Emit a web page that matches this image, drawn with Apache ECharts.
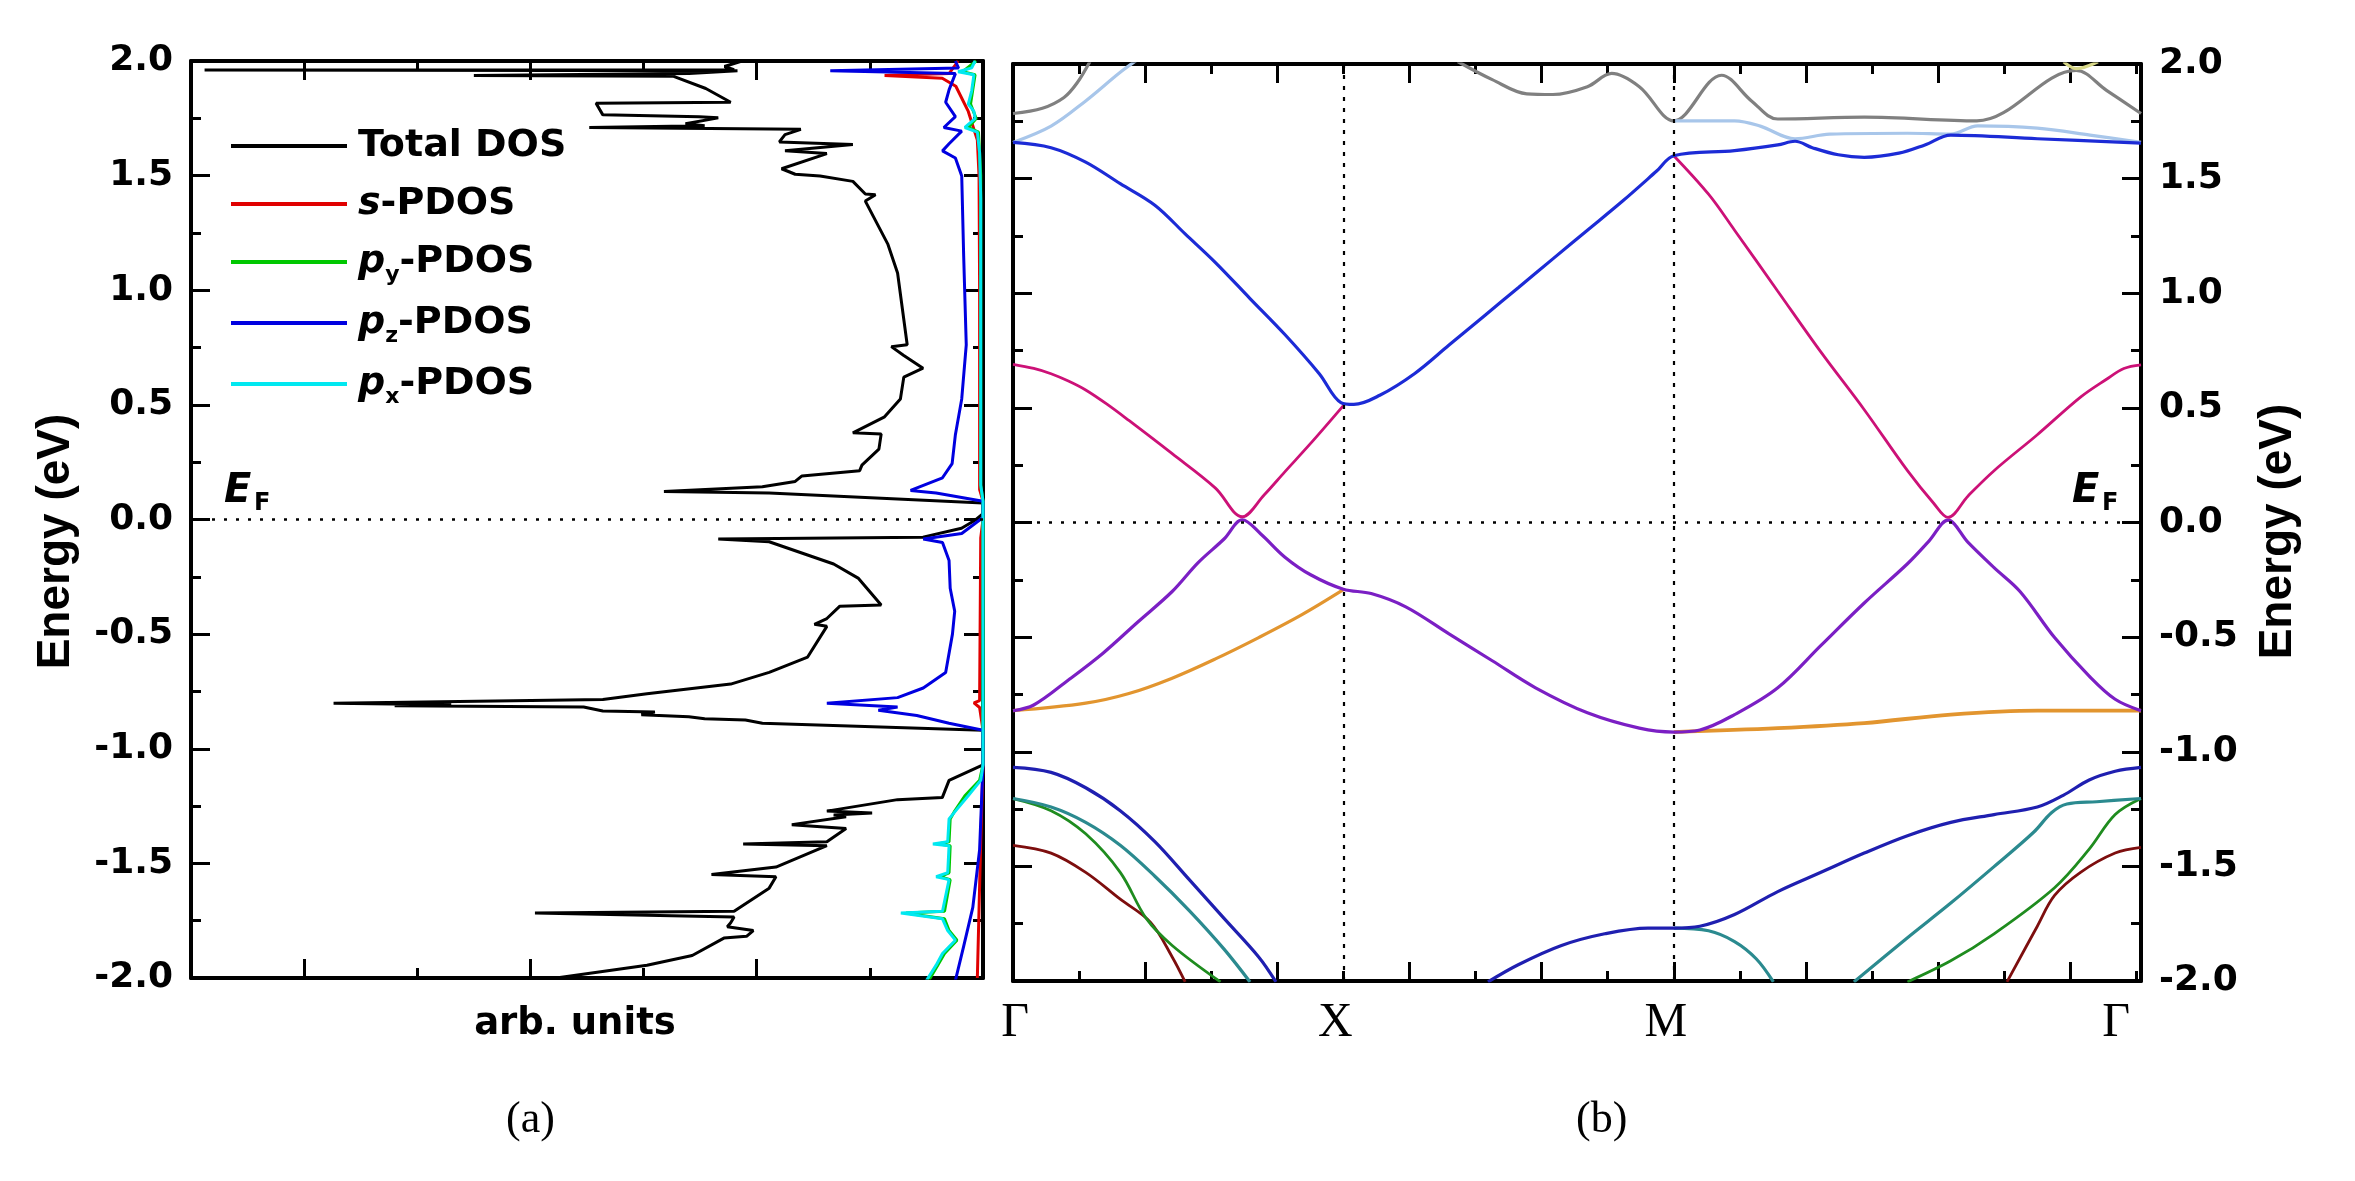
<!DOCTYPE html>
<html><head><meta charset="utf-8">
<script src="https://cdn.jsdelivr.net/npm/echarts@6/dist/echarts.min.js"></script>
<style>html,body{margin:0;padding:0;background:#fff}#c{width:2355px;height:1181px}</style>
</head><body><div id="c"></div>
<script>
// ---------------- DATA ----------------
// Energy axis (eV)
const energyMin = -2, energyMax = 2;
// DOS arrays: [energy (eV), DOS (arb. units)]
const totalDOS = [
  [2.0,2.13],[1.976,2.285],[1.962,2.2],[1.961,6.88],[1.958,2.17],[1.945,2.6],[1.937,4.5],[1.934,2.74],
  [1.88,2.45],[1.82,2.23],[1.816,3.42],[1.765,3.36],[1.757,2.51],[1.752,2.34],[1.726,2.63],[1.718,2.46],
  [1.71,3.48],[1.702,1.61],[1.679,1.75],[1.647,1.8],[1.636,1.15],[1.608,1.75],[1.596,1.38],[1.53,1.78],
  [1.506,1.66],[1.498,1.44],[1.475,1.15],[1.42,1.04],[1.417,0.95],[1.389,1.04],[1.2,0.84],[1.075,0.755],
  [0.762,0.67],[0.754,0.81],[0.715,0.7],[0.66,0.53],[0.621,0.7],[0.526,0.73],[0.448,0.87],[0.378,1.15],
  [0.373,0.9],[0.307,0.92],[0.237,1.07],[0.213,1.09],[0.19,1.6],[0.166,1.66],[0.143,1.95],[0.122,2.82],
  [0.116,1.89],[0.072,0.0],[0.025,0.0],[-0.003,0.07],[-0.038,0.19],[-0.077,0.53],[-0.085,2.34],
  [-0.097,1.89],[-0.194,1.32],[-0.257,1.1],[-0.264,1.095],[-0.373,0.9],[-0.378,1.265],[-0.432,1.38],
  [-0.457,1.49],[-0.466,1.38],[-0.6,1.55],[-0.667,1.89],[-0.718,2.23],[-0.76,2.97],[-0.785,3.36],
  [-0.802,5.74],[-0.808,4.7],[-0.812,5.2],[-0.818,3.53],[-0.835,3.36],[-0.84,2.9],[-0.852,3.02],
  [-0.86,2.6],[-0.869,2.46],[-0.875,2.1],[-0.889,1.95],[-0.919,0.0],[-1.07,0.0],[-1.138,0.3],
  [-1.213,0.36],[-1.222,0.755],[-1.272,1.38],[-1.28,0.98],[-1.289,1.32],[-1.297,1.21],[-1.331,1.69],
  [-1.348,1.21],[-1.406,1.38],[-1.415,2.12],[-1.423,1.38],[-1.516,1.83],[-1.549,2.4],[-1.558,1.83],
  [-1.608,1.89],[-1.709,2.2],[-1.717,3.96],[-1.734,2.2],[-1.759,2.23],[-1.776,2.26],[-1.793,2.03],
  [-1.818,2.09],[-1.826,2.29],[-1.902,2.57],[-1.944,2.97],[-2.011,3.93]
];
const sPDOS = [
  [2.0,0.22],[1.945,0.3],[1.937,0.87],[1.925,0.36],[1.89,0.24],[1.78,0.13],[1.655,0.05],[1.5,0.035],
  [1.0,0.03],[0.5,0.03],[0.13,0.03],[0.08,0.0],[0.0,0.0],[-0.08,0.02],[-0.79,0.03],[-0.80,0.08],
  [-0.82,0.03],[-0.919,0.0],[-1.07,0.0],[-1.4,0.02],[-1.7,0.035],[-2.0,0.05]
];
const pyPDOS = [
  [2.0,0.06],[1.953,0.18],[1.94,0.07],[1.812,0.11],[1.749,0.06],[1.71,0.13],[1.69,0.04],[1.5,0.02],
  [0.15,0.02],[0.08,0.0],[-1.07,0.0],[-1.138,0.03],[-1.205,0.16],[-1.272,0.25],[-1.306,0.29],
  [-1.406,0.3],[-1.415,0.4],[-1.423,0.29],[-1.541,0.3],[-1.558,0.38],[-1.571,0.29],[-1.709,0.34],
  [-1.717,0.68],[-1.742,0.34],[-1.793,0.3],[-1.835,0.23],[-1.893,0.34],[-1.944,0.4],[-2.011,0.48]
];
const pzPDOS = [
  [2.0,0.244],[1.969,0.216],[1.957,1.35],[1.945,0.244],[1.874,0.3],[1.82,0.33],[1.757,0.244],
  [1.71,0.346],[1.694,0.188],[1.639,0.3],[1.608,0.358],[1.577,0.244],[1.498,0.188],[1.153,0.171],
  [0.762,0.148],[0.526,0.188],[0.37,0.244],[0.244,0.273],[0.182,0.358],[0.127,0.64],[0.116,0.414],
  [0.08,0.0],[0.009,0.0],[-0.061,0.188],[-0.085,0.528],[-0.1,0.358],[-0.179,0.3],[-0.3,0.29],
  [-0.4,0.25],[-0.5,0.27],[-0.667,0.33],[-0.735,0.528],[-0.777,0.755],[-0.802,1.38],[-0.818,0.755],
  [-0.832,0.925],[-0.855,0.585],[-0.889,0.3],[-0.919,0.0],[-1.07,0.0],[-1.44,0.03],[-1.692,0.09],
  [-1.86,0.17],[-2.011,0.244]
];
const pxPDOS = [
  [2.0,0.07],[1.97,0.1],[1.953,0.22],[1.94,0.08],[1.87,0.1],[1.812,0.13],[1.78,0.08],[1.749,0.07],
  [1.71,0.16],[1.69,0.05],[1.6,0.03],[1.4,0.02],[0.15,0.02],[0.08,0.0],[-1.07,0.0],[-1.138,0.02],
  [-1.205,0.131],[-1.272,0.244],[-1.306,0.3],[-1.406,0.312],[-1.415,0.443],[-1.423,0.3],[-1.541,0.312],
  [-1.558,0.414],[-1.571,0.3],[-1.709,0.358],[-1.717,0.726],[-1.742,0.358],[-1.793,0.312],
  [-1.835,0.244],[-1.893,0.358],[-1.944,0.414],[-2.011,0.5]
];

// Band structure: [k (path coordinate), energy (eV)]
const kPoints = [0, 5, 10, 17.071];
const kLabels = ['Γ', 'X', 'M', 'Γ'];
const bandMagentaGX = [[0.0,0.69],[0.314,0.672],[0.576,0.649],[0.838,0.617],[1.1,0.578],[1.427,0.515],[1.754,0.445],[2.409,0.3],[3.064,0.15],[3.47,0.025],[3.8,0.12],[4.11,0.22],[4.504,0.345],[5.0,0.51]];
const bandMagentaMG = [[10.0,1.6],[10.526,1.432],[10.92,1.275],[11.574,1.009],[12.228,0.743],[12.883,0.492],[13.537,0.226],[13.93,0.085],[14.15,0.022],[14.454,0.116],[14.847,0.226],[15.502,0.383],[16.156,0.547],[16.549,0.625],[16.811,0.672],[17.071,0.688]];
const bandBlue = [[0.0,1.658],[0.576,1.635],[1.1,1.572],[1.623,1.478],[2.147,1.384],[2.605,1.259],[3.064,1.134],[3.587,0.977],[4.111,0.821],[4.635,0.649],[4.962,0.523],[5.158,0.515],[5.551,0.555],[6.075,0.649],[6.599,0.774],[7.122,0.899],[7.646,1.024],[8.17,1.15],[8.693,1.275],[9.217,1.4],[9.741,1.533],[10.0,1.6],[10.92,1.622],[11.574,1.647],[11.835,1.663],[12.097,1.635],[12.49,1.604],[12.883,1.593],[13.407,1.611],[13.8,1.647],[14.192,1.69],[15.502,1.674],[17.071,1.655]];
const bandLightBlueG = [[0.0,1.658],[0.576,1.729],[1.1,1.839],[1.623,1.964],[1.885,2.019]];
const bandLightBlueMG = [[10.0,1.752],[10.92,1.752],[11.31,1.729],[11.835,1.674],[12.359,1.694],[13.537,1.698],[14.19,1.694],[14.6,1.73],[15.5,1.72],[16.3,1.69],[17.071,1.658]];
const bandGrayG = [[0.0,1.784],[0.445,1.807],[0.772,1.854],[0.969,1.917],[1.165,2.011]];
const bandGrayXMG = [[6.73,2.011],[7.253,1.932],[7.777,1.87],[8.17,1.867],[8.693,1.901],[9.06,1.959],[9.479,1.901],[10.0,1.752],[10.723,1.951],[11.181,1.838],[11.574,1.76],[12.883,1.768],[14.585,1.752],[16.09,1.972],[16.549,1.885],[17.071,1.784]];
const bandYellow = [[15.9,2.01],[16.09,1.98],[16.42,2.01]];
const bandPurple = [[0.0,-0.821],[0.314,-0.796],[0.838,-0.687],[1.362,-0.57],[1.885,-0.435],[2.409,-0.301],[2.802,-0.175],[3.194,-0.072],[3.47,0.012],[3.75,-0.05],[4.111,-0.15],[4.504,-0.228],[5.0,-0.291],[5.42,-0.31],[5.944,-0.368],[6.599,-0.486],[7.253,-0.603],[7.908,-0.721],[8.693,-0.83],[9.479,-0.897],[10.0,-0.914],[10.395,-0.905],[10.92,-0.838],[11.574,-0.721],[12.228,-0.536],[12.883,-0.351],[13.537,-0.18],[13.865,-0.08],[14.15,0.01],[14.454,-0.087],[14.847,-0.197],[15.24,-0.301],[15.763,-0.502],[16.287,-0.67],[16.68,-0.771],[17.071,-0.821]];
const bandOrangeGX = [[0.0,-0.821],[1.1,-0.788],[1.754,-0.746],[2.409,-0.679],[3.064,-0.595],[3.718,-0.502],[4.373,-0.402],[5.0,-0.293]];
const bandOrangeMG = [[10.0,-0.914],[11.574,-0.897],[12.883,-0.875],[14.192,-0.838],[15.502,-0.821],[17.071,-0.821]];
const bandDarkBlueG = [[0.0,-1.068],[0.576,-1.09],[1.1,-1.157],[1.623,-1.257],[2.147,-1.392],[2.671,-1.559],[3.194,-1.727],[3.718,-1.895],[3.98,-2.004]];
const bandDarkBlueXMG = [[7.188,-2.004],[7.646,-1.929],[8.301,-1.845],[8.955,-1.794],[9.61,-1.769],[10.0,-1.769],[10.395,-1.761],[10.92,-1.71],[11.574,-1.61],[12.228,-1.526],[12.883,-1.442],[13.537,-1.366],[14.192,-1.308],[14.847,-1.274],[15.502,-1.241],[15.894,-1.19],[16.287,-1.123],[16.68,-1.085],[17.071,-1.068]];
const bandTealG = [[0.0,-1.204],[0.576,-1.241],[1.1,-1.308],[1.623,-1.408],[2.147,-1.543],[2.671,-1.694],[3.194,-1.861],[3.587,-2.004]];
const bandTealM = [[10.0,-1.769],[10.526,-1.781],[10.92,-1.828],[11.247,-1.903],[11.508,-2.004]];
const bandTealMG = [[12.726,-2.004],[13.537,-1.811],[14.192,-1.66],[14.847,-1.501],[15.45,-1.35],[15.72,-1.265],[15.95,-1.228],[16.4,-1.218],[17.071,-1.204]];
const bandGreenG = [[0.0,-1.204],[0.576,-1.257],[1.1,-1.358],[1.623,-1.526],[2.016,-1.727],[2.409,-1.845],[3.14,-2.004]];
const bandGreenMG = [[13.537,-2.004],[14.192,-1.912],[14.847,-1.794],[15.763,-1.593],[16.287,-1.425],[16.68,-1.274],[17.071,-1.204]];
const bandDarkRedG = [[0.0,-1.408],[0.576,-1.442],[1.1,-1.526],[1.623,-1.643],[2.082,-1.744],[2.409,-1.895],[2.605,-2.004]];
const bandDarkRedMG = [[15.043,-2.004],[15.502,-1.761],[15.763,-1.627],[16.156,-1.526],[16.68,-1.442],[17.071,-1.417]];

// ---------------- STYLE ----------------
const SANS = '"DejaVu Sans", "Liberation Sans", Arial, sans-serif';
const ARIAL = '"Liberation Sans", Arial, sans-serif';
const SERIF = '"Liberation Serif", "Times New Roman", serif';
const BLACK = '#000';

const chart = echarts.init(document.getElementById('c'), null, {renderer: 'canvas'});

function xAx(grid, pos, interval, len, showLine, max, extra) {
  return Object.assign({
    gridIndex: grid, type: 'value', position: pos, min: 0, max: max, interval: interval,
    axisLine: {show: showLine, onZero: false, lineStyle: {color: BLACK, width: 4}},
    axisTick: {show: true, inside: true, length: len, lineStyle: {color: BLACK, width: 3}},
    axisLabel: {show: false}, splitLine: {show: false}
  }, extra || {});
}
function yAx(grid, pos, showLabel, extra) {
  return Object.assign({
    gridIndex: grid, type: 'value', position: pos, min: energyMin, max: energyMax, interval: 0.5,
    axisLine: {show: true, onZero: false, lineStyle: {color: BLACK, width: 4}},
    axisTick: {show: true, inside: true, length: 19, lineStyle: {color: BLACK, width: 3}},
    minorTick: {show: true, splitNumber: 2, length: 10, lineStyle: {color: BLACK, width: 3}},
    axisLabel: {show: showLabel, margin: 18, color: BLACK, fontFamily: SANS, fontWeight: 'bold', fontSize: 36,
      formatter: v => v.toFixed(1)},
    splitLine: {show: false}
  }, extra || {});
}

const dosMax = 7;
const kMax = kPoints[kPoints.length - 1];

const xAxes = [
  xAx(0, 'bottom', 2, 19, true, dosMax, {inverse: true, name: 'arb. units', nameLocation: 'middle', nameGap: 28,
     nameTextStyle: {color: BLACK, fontFamily: SANS, fontWeight: 'bold', fontSize: 37, padding: [0, 24, 0, 0]}}),
  xAx(0, 'bottom', 1, 10, false, dosMax, {inverse: true}),
  xAx(0, 'top', 2, 19, true, dosMax, {inverse: true}),
  xAx(0, 'top', 1, 10, false, dosMax, {inverse: true}),
  xAx(1, 'bottom', 2, 19, true, kMax, {
    axisLabel: {show: true, customValues: kPoints, margin: 18, color: BLACK, fontFamily: SERIF, fontSize: 48,
      formatter: v => {
        let i = 0, d = 1e9;
        kPoints.forEach((p, j) => { if (Math.abs(p - v) < d) { d = Math.abs(p - v); i = j; } });
        return i === 0 ? '{a|' + kLabels[i] + '}' : (i === kPoints.length - 1 ? '{c|' + kLabels[i] + '}' : '{b|' + kLabels[i] + '}');
      },
      rich: {
        a: {fontFamily: SERIF, fontSize: 48, color: BLACK, padding: [0, 0, 0, 4]},
        b: {fontFamily: SERIF, fontSize: 48, color: BLACK, padding: [0, 16, 0, 0]},
        c: {fontFamily: SERIF, fontSize: 48, color: BLACK, padding: [0, 50, 0, 0]}
      }}}),
  xAx(1, 'bottom', 1, 10, false, kMax),
  xAx(1, 'top', 2, 19, true, kMax),
  xAx(1, 'top', 1, 10, false, kMax)
];
const yAxes = [
  yAx(0, 'left', true, {name: 'Energy (eV)', nameLocation: 'middle', nameRotate: 90, nameGap: 112,
     nameTextStyle: {color: BLACK, fontFamily: ARIAL, fontWeight: 'bold', fontSize: 46, padding: [0, 44, 0, 0]}}),
  yAx(0, 'right', false),
  yAx(1, 'right', true, {name: 'Energy (eV)', nameLocation: 'middle', nameRotate: 90, nameGap: 114,
     nameTextStyle: {color: BLACK, fontFamily: ARIAL, fontWeight: 'bold', fontSize: 46, padding: [0, 18, 0, 0]}}),
  yAx(1, 'left', false)
];

function dosSeries(name, arr, color, extra) {
  return Object.assign({
    name: name, type: 'line', xAxisIndex: 0, yAxisIndex: 0, showSymbol: false, symbol: 'none',
    data: arr.map(p => [p[1], p[0]]), lineStyle: {color: color, width: 3}, itemStyle: {color: color},
    animation: false, silent: true
  }, extra || {});
}
function bandSeries(arr, color, width, extra) {
  return Object.assign({
    type: 'line', xAxisIndex: 4, yAxisIndex: 2, showSymbol: false, symbol: 'none', smooth: 0.35,
    data: arr, lineStyle: {color: color, width: width || 3.2}, animation: false, silent: true
  }, extra || {});
}

const dotted = {color: BLACK, width: 2.5, type: [3, 9]};
const dashedV = {color: BLACK, width: 2.2, type: [4, 7]};

const series = [
  dosSeries('Total DOS', totalDOS, '#000000', {markLine: {silent: true, symbol: 'none', label: {show: false},
    lineStyle: dotted, data: [{yAxis: 0}], animation: false}}),
  dosSeries('s-PDOS', sPDOS, '#e00000'),
  dosSeries('py-PDOS', pyPDOS, '#00c800'),
  dosSeries('pz-PDOS', pzPDOS, '#0000e0'),
  dosSeries('px-PDOS', pxPDOS, '#00e8f0'),
  bandSeries(bandGrayG, '#808080'),
  bandSeries(bandGrayXMG, '#808080'),
  bandSeries(bandYellow, '#d8d888'),
  bandSeries(bandLightBlueG, '#a8c6ea'),
  bandSeries(bandLightBlueMG, '#a8c6ea'),
  bandSeries(bandDarkRedG, '#7d0e0e', 2.8),
  bandSeries(bandDarkRedMG, '#7d0e0e', 2.8),
  bandSeries(bandGreenG, '#1f8c1f', 2.8),
  bandSeries(bandGreenMG, '#1f8c1f', 2.8),
  bandSeries(bandTealG, '#2b8a8f'),
  bandSeries(bandTealM, '#2b8a8f'),
  bandSeries(bandTealMG, '#2b8a8f'),
  bandSeries(bandDarkBlueG, '#1f1fb0'),
  bandSeries(bandDarkBlueXMG, '#1f1fb0'),
  bandSeries(bandOrangeGX, '#e2952f'),
  bandSeries(bandOrangeMG, '#e2952f', 3.8),
  bandSeries(bandPurple, '#7b1fc4', 3.2, {markLine: {silent: true, symbol: 'none', label: {show: false},
    animation: false, data: [
      {yAxis: 0, lineStyle: dotted},
      {xAxis: kPoints[1], lineStyle: dashedV},
      {xAxis: kPoints[2], lineStyle: dashedV}
    ]}}),
  bandSeries(bandMagentaGX, '#cc1177', 2.8),
  bandSeries(bandMagentaMG, '#cc1177', 2.8),
  bandSeries(bandBlue, '#1c2bd6', 3.2)
];

const legendNames = {'Total DOS': 'Total DOS', 's-PDOS': '{i|s}-PDOS', 'py-PDOS': '{i|p}{sub|y}-PDOS',
  'pz-PDOS': '{i|p}{sub|z}-PDOS', 'px-PDOS': '{i|p}{sub|x}-PDOS'};

const option = {
  backgroundColor: '#fff',
  animation: false,
  grid: [
    {left: 191, top: 61, width: 792, height: 917},
    {left: 1013, top: 64, width: 1128, height: 917}
  ],
  xAxis: xAxes,
  yAxis: yAxes,
  legend: {
    data: ['Total DOS', 's-PDOS', 'py-PDOS', 'pz-PDOS', 'px-PDOS'],
    orient: 'vertical', left: 226, top: 120, itemWidth: 116, itemHeight: 4, itemGap: 16, icon: 'rect',
    selectedMode: false,
    formatter: n => legendNames[n],
    textStyle: {color: BLACK, fontFamily: SANS, fontWeight: 'bold', fontSize: 38, lineHeight: 42, padding: [0, 0, 0, 6],
      rich: {
        i: {fontFamily: SANS, fontWeight: 'bold', fontStyle: 'italic', fontSize: 38, color: BLACK},
        sub: {fontFamily: SANS, fontWeight: 'bold', fontSize: 22, color: BLACK, padding: [26, 0, 0, 0]}
      }}
  },
  graphic: [
    {type: 'text', left: 224, top: 472, style: {text: 'E', font: 'italic bold 40px ' + SANS, fill: BLACK}},
    {type: 'text', left: 254, top: 492, style: {text: 'F', font: 'bold 24px ' + SANS, fill: BLACK}},
    {type: 'text', left: 2072, top: 472, style: {text: 'E', font: 'italic bold 40px ' + SANS, fill: BLACK}},
    {type: 'text', left: 2102, top: 492, style: {text: 'F', font: 'bold 24px ' + SANS, fill: BLACK}},
    {type: 'text', left: 506, top: 1098, style: {text: '(a)', font: '44px ' + SERIF, fill: BLACK}},
    {type: 'text', left: 1576, top: 1098, style: {text: '(b)', font: '44px ' + SERIF, fill: BLACK}}
  ],
  series: series
};
chart.setOption(option);
</script>
</body></html>
